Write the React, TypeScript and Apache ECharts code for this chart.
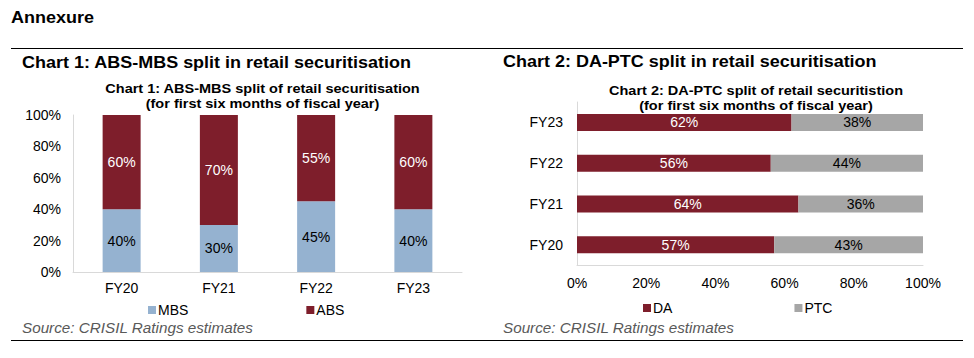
import React, { useEffect, useRef } from "react";
import * as echarts from "echarts";

const years1 = ["FY20", "FY21", "FY22", "FY23"];
const mbsValues = [40, 30, 45, 40];
const absValues = [60, 70, 55, 60];

const years2 = ["FY20", "FY21", "FY22", "FY23"];
const daValues = [57, 64, 56, 62];
const ptcValues = [43, 36, 44, 38];

const pctTicks = [0, 20, 40, 60, 80, 100];

const FONT = "Arial, 'Liberation Sans', sans-serif";
const RED = "#7E1E2B";
const BLUE = "#95B2D0";
const GRAY = "#A6A6A6";
const AXIS = "#D9D9D9";

export default function App() {
  const ref = useRef<HTMLDivElement>(null);
  useEffect(() => {
    if (!ref.current) return;
    const chart = echarts.init(ref.current, null, { renderer: "svg" });
    const txt = (
      text: string,
      x: number,
      y: number,
      size: number,
      opts: any = {}
    ) => ({
      type: "text",
      x,
      y,
      scaleX: opts.scaleX ?? 1.09,
      silent: true,
      style: {
        text,
        fill: opts.fill ?? "#000",
        fontSize: size,
        fontWeight: opts.weight ?? "bold",
        fontStyle: opts.style ?? "normal",
        fontFamily: FONT,
        textAlign: opts.align ?? "left",
        textVerticalAlign: "middle",
      },
    });
    const hline = (x1: number, x2: number, y: number) => ({
      type: "line",
      silent: true,
      shape: { x1, y1: y, x2, y2: y },
      style: { stroke: "#000", lineWidth: 1 },
    });
    const axisLabel = { color: "#000", fontSize: 14, fontFamily: FONT };
    const option: any = {
      animation: false,
      backgroundColor: "#fff",
      graphic: [
        txt("Annexure", 11, 17, 16.5),
        hline(11, 963, 48.5),
        hline(11, 963, 340.5),
        txt("Chart 1: ABS-MBS split in retail securitisation", 22, 62, 16.5),
        txt("Chart 2: DA-PTC split in retail securitisation", 503, 61, 16.5),
        txt("Chart 1: ABS-MBS split of retail securitisation", 262.5, 88.5, 13.5, { align: "center", scaleX: 1.075 }),
        txt("(for first six months of fiscal year)", 262.5, 103.5, 13.5, { align: "center", scaleX: 1.075 }),
        txt("Chart 2: DA-PTC split of retail securitistion", 756, 90, 13.5, { align: "center", scaleX: 1.075 }),
        txt("(for first six months of fiscal year)", 756, 105.5, 13.5, { align: "center", scaleX: 1.075 }),
        txt("Source: CRISIL Ratings estimates", 22, 328, 14, { weight: "normal", style: "italic", fill: "#595959" }),
        txt("Source: CRISIL Ratings estimates", 503, 328, 14, { weight: "normal", style: "italic", fill: "#595959" }),
      ],
      legend: [
        {
          left: 143,
          top: 298,
          icon: "rect",
          itemWidth: 8,
          itemHeight: 8,
          itemGap: 118,
          data: ["MBS", "ABS"],
          textStyle: { color: "#000", fontSize: 14, fontFamily: FONT, padding: [0, 0, 0, -3] },
        },
        {
          left: 638,
          top: 296,
          icon: "rect",
          itemWidth: 8,
          itemHeight: 8,
          itemGap: 122,
          data: ["DA", "PTC"],
          textStyle: { color: "#000", fontSize: 14, fontFamily: FONT, padding: [0, 0, 0, -3] },
        },
      ],
      grid: [
        { left: 73, right: 974 - 462, top: 115, bottom: 358 - 272 },
        { left: 577, right: 974 - 923, top: 102, bottom: 358 - 265 },
      ],
      xAxis: [
        {
          gridIndex: 0,
          type: "category",
          data: years1,
          axisLine: { lineStyle: { color: AXIS } },
          axisTick: { show: false },
          axisLabel: { ...axisLabel, margin: 9 },
        },
        {
          gridIndex: 1,
          type: "value",
          min: pctTicks[0],
          max: pctTicks[pctTicks.length - 1],
          interval: pctTicks[1] - pctTicks[0],
          axisLine: { show: true, lineStyle: { color: AXIS } },
          axisTick: { show: false },
          splitLine: { show: false },
          axisLabel: { ...axisLabel, margin: 11, formatter: "{value}%" },
        },
      ],
      yAxis: [
        {
          gridIndex: 0,
          type: "value",
          min: pctTicks[0],
          max: pctTicks[pctTicks.length - 1],
          interval: pctTicks[1] - pctTicks[0],
          axisLine: { show: true, lineStyle: { color: AXIS } },
          axisTick: { show: false },
          splitLine: { show: false },
          axisLabel: { ...axisLabel, margin: 12, formatter: "{value}%" },
        },
        {
          gridIndex: 1,
          type: "category",
          data: years2,
          axisLine: { show: true, lineStyle: { color: AXIS } },
          axisTick: { show: false },
          axisLabel: { ...axisLabel, margin: 14 },
        },
      ],
      series: [
        {
          name: "MBS",
          type: "bar",
          stack: "c1",
          xAxisIndex: 0,
          yAxisIndex: 0,
          barWidth: 38,
          data: mbsValues,
          itemStyle: { color: BLUE },
          label: { show: true, position: "inside", formatter: "{c}%", color: "#000", fontSize: 14, fontFamily: FONT },
        },
        {
          name: "ABS",
          type: "bar",
          stack: "c1",
          xAxisIndex: 0,
          yAxisIndex: 0,
          barWidth: 38,
          data: absValues,
          itemStyle: { color: RED },
          label: { show: true, position: "inside", formatter: "{c}%", color: "#fff", fontSize: 14, fontFamily: FONT },
        },
        {
          name: "DA",
          type: "bar",
          stack: "c2",
          xAxisIndex: 1,
          yAxisIndex: 1,
          barWidth: 17,
          data: daValues,
          itemStyle: { color: RED },
          label: { show: true, position: "inside", formatter: "{c}%", color: "#fff", fontSize: 14, fontFamily: FONT },
        },
        {
          name: "PTC",
          type: "bar",
          stack: "c2",
          xAxisIndex: 1,
          yAxisIndex: 1,
          barWidth: 17,
          data: ptcValues,
          itemStyle: { color: GRAY },
          label: { show: true, position: "inside", formatter: "{c}%", color: "#000", fontSize: 14, fontFamily: FONT },
        },
      ],
    };
    chart.setOption(option);
    return () => chart.dispose();
  }, []);
  return (
    <div
      ref={ref}
      style={{ position: "absolute", left: 0, top: 0, width: 974, height: 358, background: "#fff" }}
    />
  );
}
